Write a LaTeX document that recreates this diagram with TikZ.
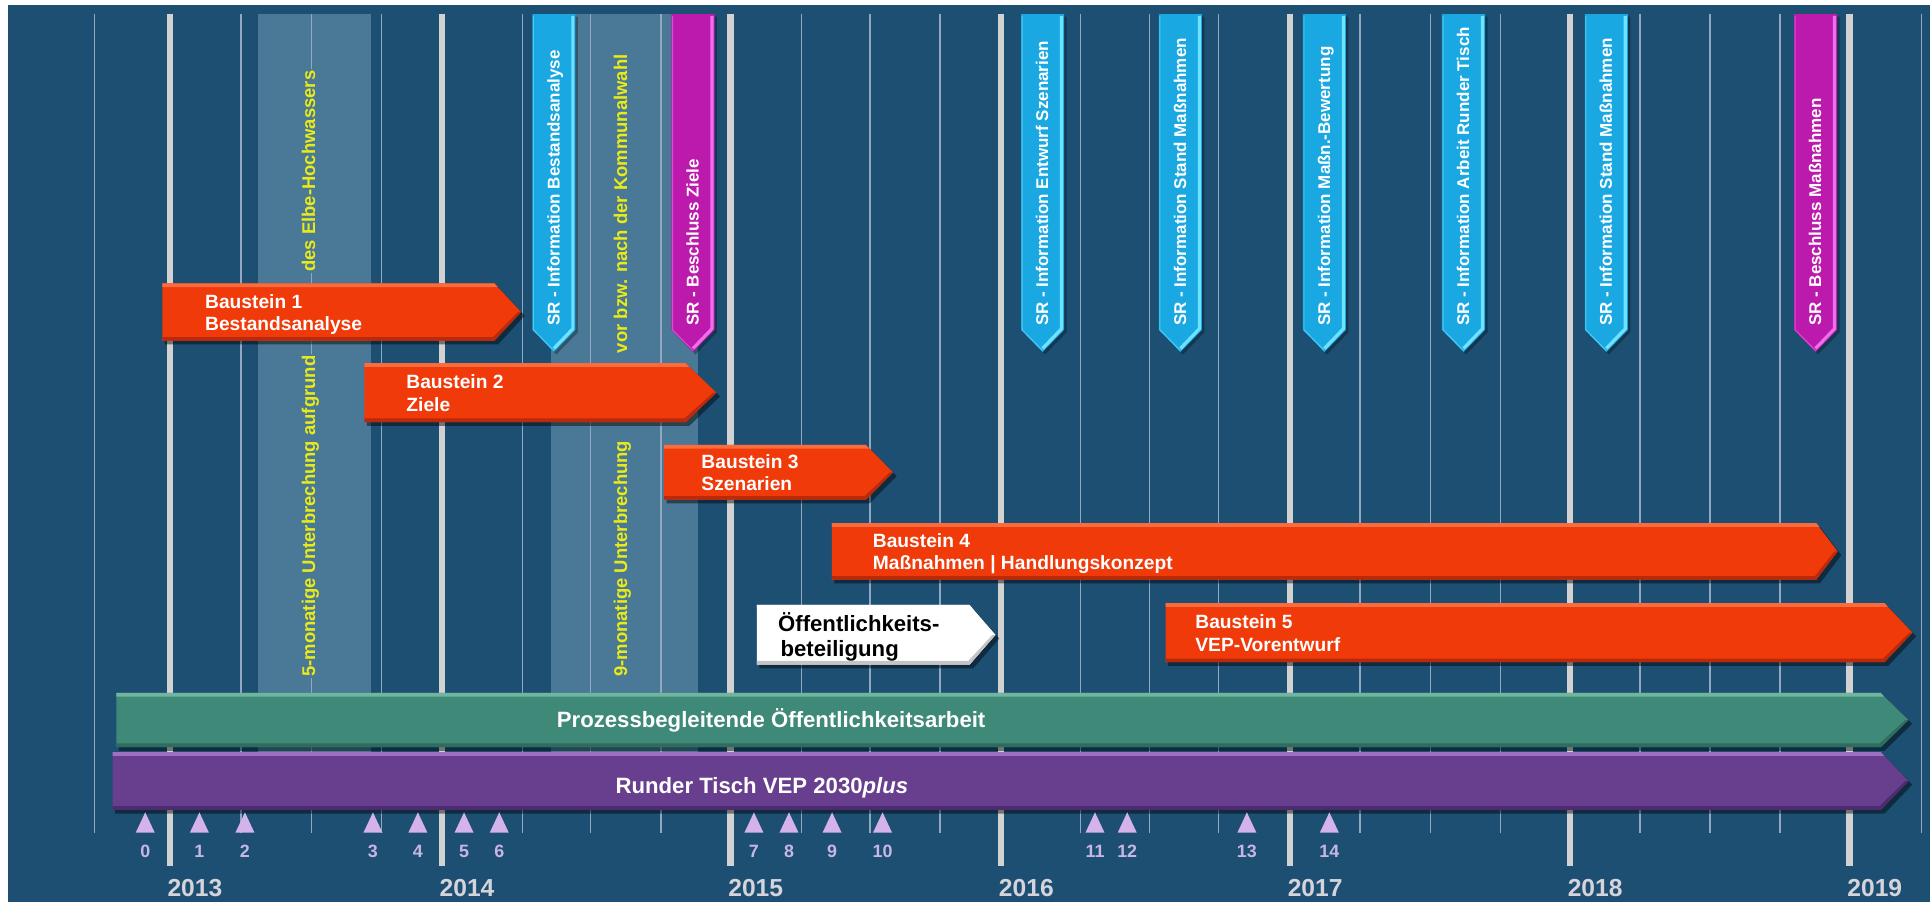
\documentclass[tikz,border=0pt]{standalone}
\usepackage{fontspec}
\setmainfont{Liberation Sans}
\definecolor{bgc}{RGB}{29,79,115}
\definecolor{bandc}{RGB}{74,121,151}
\definecolor{thinc}{RGB}{145,168,192}
\definecolor{yearc}{RGB}{210,210,210}
\definecolor{orng}{RGB}{240,58,10}
\definecolor{orngL}{RGB}{248,108,62}
\definecolor{orngD}{RGB}{185,42,12}
\definecolor{grn}{RGB}{63,137,120}
\definecolor{grnL}{RGB}{112,182,158}
\definecolor{grnD}{RGB}{45,108,94}
\definecolor{purp}{RGB}{104,62,142}
\definecolor{purpL}{RGB}{158,112,196}
\definecolor{purpD}{RGB}{78,42,112}
\definecolor{whD}{RGB}{196,196,196}
\definecolor{whL}{RGB}{255,255,255}
\definecolor{cyanF}{RGB}{26,168,226}
\definecolor{cyanL}{RGB}{110,226,255}
\definecolor{magF}{RGB}{188,26,172}
\definecolor{magL}{RGB}{240,110,236}
\definecolor{ylw}{RGB}{234,234,24}
\definecolor{lavT}{RGB}{212,178,234}
\definecolor{lavN}{RGB}{200,182,228}
\definecolor{yeartxt}{RGB}{212,212,218}

% x0, xshoulder, xtip, ytop, ybottom, fill, light, dark
\newcommand{\tlarrow}[8]{%
  \fill[black,opacity=0.45] ({#1+2},{#4+3}) -- ({#2+3},{#4+3}) -- ({#3+3},{(#4+#5)/2+3}) -- ({#2+3},{#5+3}) -- ({#1+2},{#5+3}) -- cycle;
  \fill[#6] (#1,#4) -- (#2,#4) -- (#3,{(#4+#5)/2}) -- (#2,#5) -- (#1,#5) -- cycle;
  \fill[#7] (#1,#4) -- (#2,#4) -- ({#2+2.6},{#4+3}) -- (#1,{#4+3}) -- cycle;
  \fill[#8] (#1,{#5-3}) -- ({#2-1},{#5-3}) -- ({#3-2.5},{(#4+#5)/2}) -- (#3,{(#4+#5)/2}) -- (#2,#5) -- (#1,#5) -- cycle;
}
% xcenter, fill, light, text, name
\newcommand{\srflag}[5]{%
  \fill[black,opacity=0.3] ({#1-15.5},13.5) -- ({#1+19.5},13.5) -- ({#1+19.5},270) -- ({#1+2},288) -- ({#1-15.5},270) -- cycle;
  \fill[#2] ({#1-17.5},11.5) -- ({#1+17.5},11.5) -- ({#1+17.5},268) -- (#1,286) -- ({#1-17.5},268) -- cycle;
  \draw[#3, line width=2.6pt, line join=round] ({#1+15.4},13) -- ({#1+15.4},267.1) -- (#1,283.1);
  \draw[#3, line width=0.8pt, opacity=0.6] ({#1-16.6},13) -- ({#1-16.6},268) -- (#1,284.8);
  \node[flagtext] (#5) at ({#1+4.6},265) {#4};
}

\begin{document}
\begin{tikzpicture}[x=1pt,y=-1pt,
  thinline/.style={draw=thinc, line width=1.2pt},
  yearline/.style={draw=yearc, line width=5.2pt},
  bandtext/.style={rotate=90, anchor=base west, inner sep=1pt, fill=bandc, text=ylw, font=\bfseries\fontsize{15}{17}\selectfont},
  flagtext/.style={rotate=90, anchor=base west, inner sep=0pt, text=white, font=\bfseries\fontsize{13.8}{16}\selectfont},
  btext/.style={anchor=base west, inner sep=0pt, text=white, font=\bfseries\fontsize{15.6}{18}\selectfont},
  wtext/.style={anchor=base west, inner sep=0pt, text=black, font=\bfseries\fontsize{18}{20}\selectfont},
  bartext/.style={anchor=base, inner sep=0pt, text=white, font=\bfseries\fontsize{18}{20}\selectfont},
  yearlbl/.style={anchor=base west, inner sep=0pt, text=yeartxt, font=\bfseries\fontsize{20}{22}\selectfont},
  numlbl/.style={anchor=base, inner sep=0pt, text=lavN, font=\bfseries\fontsize{14.5}{16}\selectfont},
  marker/.style={fill=lavT}
]
\useasboundingbox (0,0) rectangle (1568,733);
\fill[white] (0,0) rectangle (1568,733);
\fill[bgc] (6.7,4) rectangle (1568,733);

% interruption bands
\fill[bandc] (210,11) rectangle (301.3,611);
\fill[bandc] (448,11) rectangle (567,611);

% grid lines
\foreach \x in {76.8,195.7,252.9,309.9,424.5,479.7,537,651,707,763.5,878,934,990,1104.8,1162,1219,1332.4,1389.3,1446,1561}
  \draw[thinline] (\x,11) -- (\x,677);
\foreach \x in {137.9,359,593.5,813.4,1048,1275.5,1502.7}
  \draw[yearline] (\x,11) -- (\x,703.5);

% band texts
\node[bandtext] (e1) at (256,551) {5-monatige Unterbrechung aufgrund};
\node[bandtext] (e2) at (256,222) {des Elbe-Hochwassers};
\node[bandtext] (k1) at (509.5,551) {9-monatige Unterbrechung};
\node[bandtext] (k2) at (509.5,288) {vor bzw. nach der Kommunalwahl};

% long bars
\tlarrow{94.5}{1528}{1550.5}{563}{607}{grn}{grnL}{grnD}
\node[bartext] (oa) at (626.5,591) {Prozessbegleitende Öffentlichkeitsarbeit};
\tlarrow{91.4}{1528}{1550.5}{611}{658}{purp}{purpL}{purpD}
\node[bartext] (rt) at (619,644.5) {Runder Tisch VEP 2030\textit{plus}};

% Bausteine
\tlarrow{132}{401.6}{423.4}{230.2}{276.8}{orng}{orngL}{orngD}
\node[btext] (b1a) at (166.5,250.5) {Baustein 1};
\node[btext] (b1b) at (166.5,268.5) {Bestandsanalyse};
\tlarrow{296}{557}{582}{295}{343}{orng}{orngL}{orngD}
\node[btext] (b2a) at (330,316) {Baustein 2};
\node[btext] (b2b) at (330,334) {Ziele};
\tlarrow{539.5}{703.5}{725.5}{361.5}{406}{orng}{orngL}{orngD}
\node[btext] (b3a) at (569.7,380.7) {Baustein 3};
\node[btext] (b3b) at (569.7,398.7) {Szenarien};
\tlarrow{675.8}{1475.5}{1493}{425}{471}{orng}{orngL}{orngD}
\node[btext] (b4a) at (709,445) {Baustein 4};
\node[btext] (b4b) at (709,463) {Maßnahmen | Handlungskonzept};
\tlarrow{947}{1531}{1553.7}{490}{538}{orng}{orngL}{orngD}
\node[btext] (b5a) at (971,511) {Baustein 5};
\node[btext] (b5b) at (971,529.5) {VEP-Vorentwurf};
\tlarrow{615}{787.7}{808.8}{491.5}{540}{white}{whL}{whD}
\node[wtext] (oe1) at (632,513) {Öffentlichkeits-};
\node[wtext] (oe2) at (634,533) {beteiligung};

% SR flags
\srflag{450}{cyanF}{cyanL}{SR - Information Bestandsanalyse}{f1}
\srflag{563}{magF}{magL}{SR - Beschluss Ziele}{f2}
\srflag{847}{cyanF}{cyanL}{SR - Information Entwurf Szenarien}{f3}
\srflag{959}{cyanF}{cyanL}{SR - Information Stand Maßnahmen}{f4}
\srflag{1076}{cyanF}{cyanL}{SR - Information Maßn.-Bewertung}{f5}
\srflag{1189}{cyanF}{cyanL}{SR - Information Arbeit Runder Tisch}{f6}
\srflag{1305}{cyanF}{cyanL}{SR - Information Stand Maßnahmen}{f7}
\srflag{1475}{magF}{magL}{SR - Beschluss Maßnahmen}{f8}

% markers
\foreach \x/\n in {118/0,162/1,199/2,303/3,339.5/4,377/5,405.6/6,612.5/7,641/8,676/9,717/10,889.6/11,915.8/12,1013/13,1080/14}{
  \fill[marker] ({\x-7.75},676.5) -- ({\x+7.75},676.5) -- (\x,660) -- cycle;
  \node[numlbl] (m\n) at (\x,697) {\n};
}

% years
\node[yearlbl] (y2013) at (135.9,728.5) {2013};
\node[yearlbl] (y2014) at (357,728.5) {2014};
\node[yearlbl] (y2015) at (591.5,728.5) {2015};
\node[yearlbl] (y2016) at (811.4,728.5) {2016};
\node[yearlbl] (y2017) at (1046,728.5) {2017};
\node[yearlbl] (y2018) at (1273.5,728.5) {2018};
\node[yearlbl] (y2019) at (1500.7,728.5) {2019};
\end{tikzpicture}
\end{document}
